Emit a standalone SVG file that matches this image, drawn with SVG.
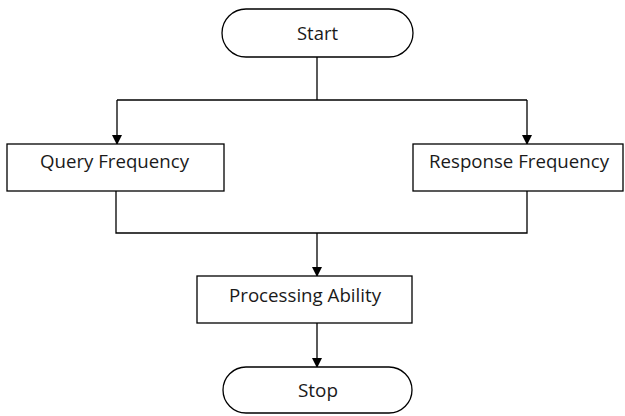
<svg xmlns="http://www.w3.org/2000/svg" width="625" height="416" viewBox="0 0 625 416">
  <style>
    .shape { fill: #ffffff; stroke: #000000; stroke-width: 1.3; }
    .label { font-family: "Open Sans", "Liberation Sans", sans-serif; font-size: 17.5px; fill: #1a1a1a; text-anchor: middle; }
    .wire { fill: none; stroke: #000000; stroke-width: 1.3; }
  </style>
  <defs>
    <marker id="arrow" markerWidth="10" markerHeight="10" refX="9" refY="5" orient="auto" markerUnits="userSpaceOnUse">
      <path d="M0,0 L10,5 L0,10 Z" fill="#000000"/>
    </marker>
  </defs>
  <rect width="625" height="416" fill="#ffffff"/>

  <g id="connectors">
    <path class="wire" d="M317,57 V100"/>
    <path class="wire" d="M117,100 H527"/>
    <path class="wire" d="M117,100 V144" marker-end="url(#arrow)"/>
    <path class="wire" d="M527,100 V144" marker-end="url(#arrow)"/>
    <path class="wire" d="M116,191 V233 H527 V191"/>
    <path class="wire" d="M317,233 V276" marker-end="url(#arrow)"/>
    <path class="wire" d="M317,323 V367" marker-end="url(#arrow)"/>
  </g>

  <g id="start">
    <rect class="shape" x="222" y="9" width="191" height="48" rx="24" ry="24"/>
    <text class="label" x="317.5" y="40" textLength="41" lengthAdjust="spacingAndGlyphs">Start</text>
  </g>

  <g id="query-frequency">
    <rect class="shape" x="7" y="144" width="217" height="47"/>
    <text class="label" x="114.5" y="168" textLength="149" lengthAdjust="spacingAndGlyphs">Query Frequency</text>
  </g>

  <g id="response-frequency">
    <rect class="shape" x="413" y="144" width="210" height="47"/>
    <text class="label" x="519" y="168" textLength="180" lengthAdjust="spacingAndGlyphs">Response Frequency</text>
  </g>

  <g id="processing-ability">
    <rect class="shape" x="197" y="276" width="215" height="47"/>
    <text class="label" x="305" y="302" textLength="152" lengthAdjust="spacingAndGlyphs">Processing Ability</text>
  </g>

  <g id="stop">
    <rect class="shape" x="223" y="367" width="189" height="46" rx="23" ry="23"/>
    <text class="label" x="318" y="397" textLength="40" lengthAdjust="spacingAndGlyphs">Stop</text>
  </g>
</svg>
